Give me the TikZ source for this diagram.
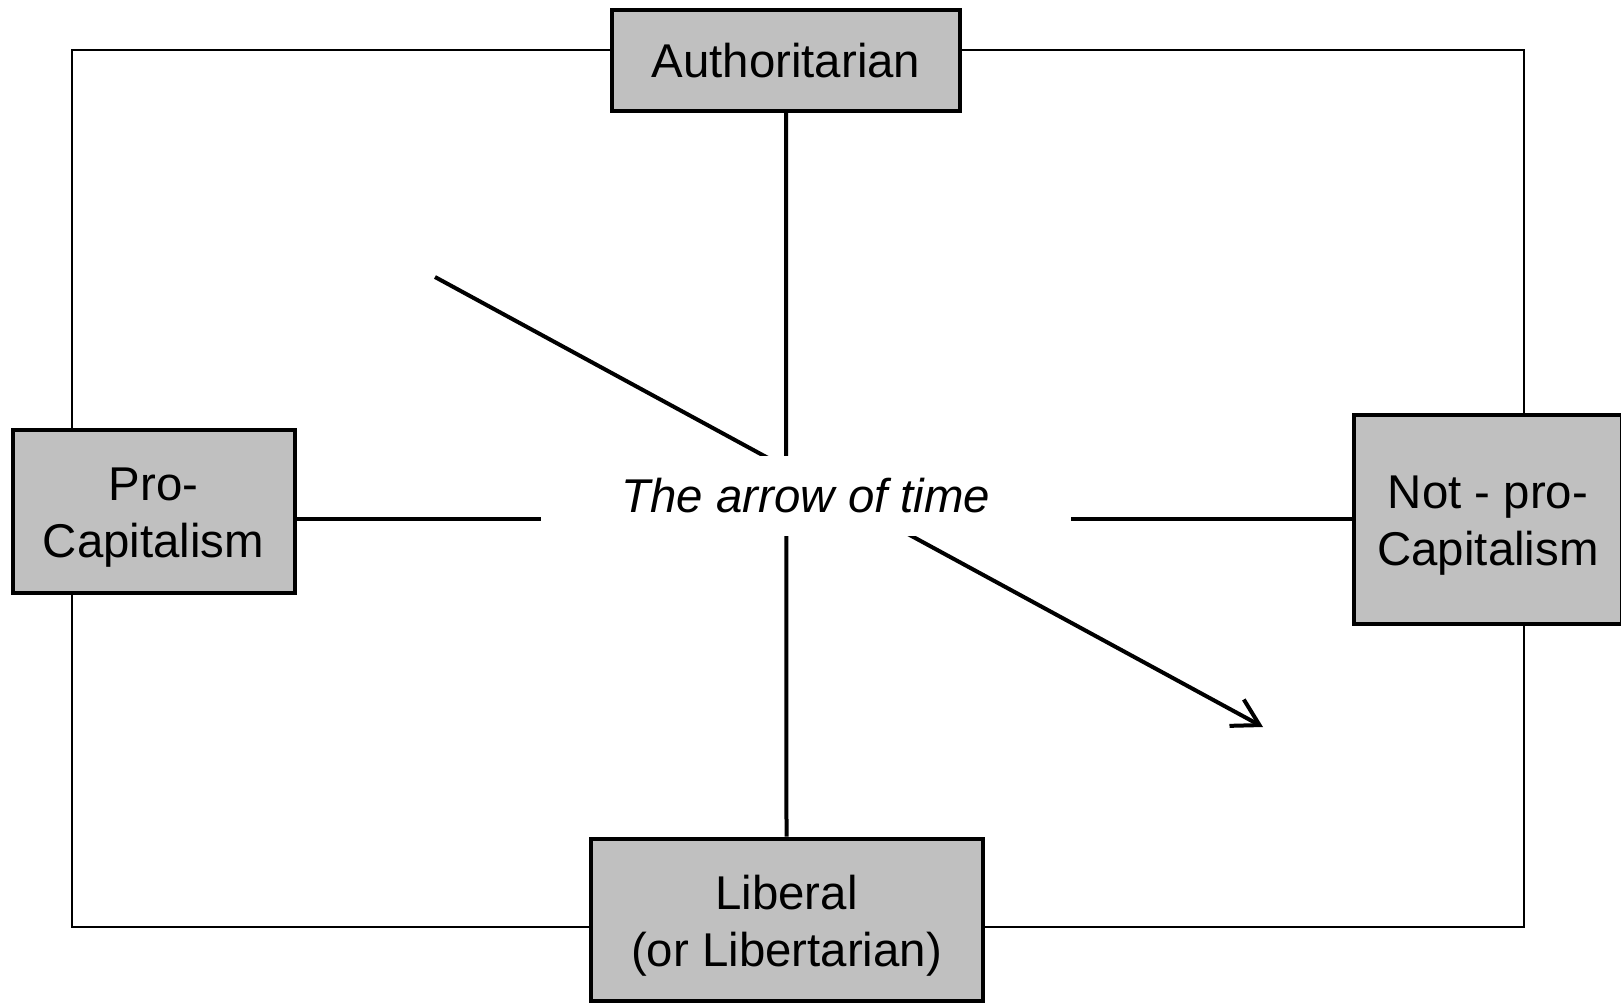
\documentclass[tikz,border=0pt]{standalone}
\usepackage{fontspec}
\setmainfont{Liberation Sans}
\usetikzlibrary{arrows.meta,backgrounds}
\newcommand{\topstrut}{\rule{0pt}{46pt}}
\begin{document}
\begin{tikzpicture}[x=1pt,y=-1pt,
  box/.style={draw=black,line width=4pt,fill=boxgray,align=center,inner sep=0pt,
    font=\fontsize{47.4pt}{57pt}\selectfont},
  axis/.style={line width=4pt},
  frame/.style={line width=2pt}]
\definecolor{boxgray}{HTML}{C0C0C0}
\useasboundingbox (0,0) rectangle (1621,1003);
\node[box,minimum width=348pt,minimum height=101pt] (auth) at (786,60.5) {Authoritarian};
\node[box,minimum width=282pt,minimum height=163pt] (pro) at (153.5,511) {\topstrut Pro-\\Capitalism};
\node[box,minimum width=268pt,minimum height=209pt] (notpro) at (1488,519) {\topstrut Not - pro-\\Capitalism};
\node[box,minimum width=392pt,minimum height=162pt] (lib) at (786.5,919.5) {\topstrut Liberal\\(or Libertarian)};
\node[fill=white,inner sep=0pt,minimum width=530pt,minimum height=80pt,
  font=\fontsize{47.4pt}{57pt}\selectfont\itshape] (time) at (806,496) {The arrow of time};
\coordinate (a0) at (435,277);
\coordinate (a1) at (1263,727);
\begin{pgfonlayer}{background}
\draw[frame] (72,50) rectangle (1524,927);
\draw[axis] (auth.south) -- (lib.north);
\draw[axis] (pro.east |- notpro.west) -- (notpro.west);
\draw[axis,-{Straight Barb[length=26pt,width=30pt]}] (a0) -- (a1);
\end{pgfonlayer}
\end{tikzpicture}
\end{document}
